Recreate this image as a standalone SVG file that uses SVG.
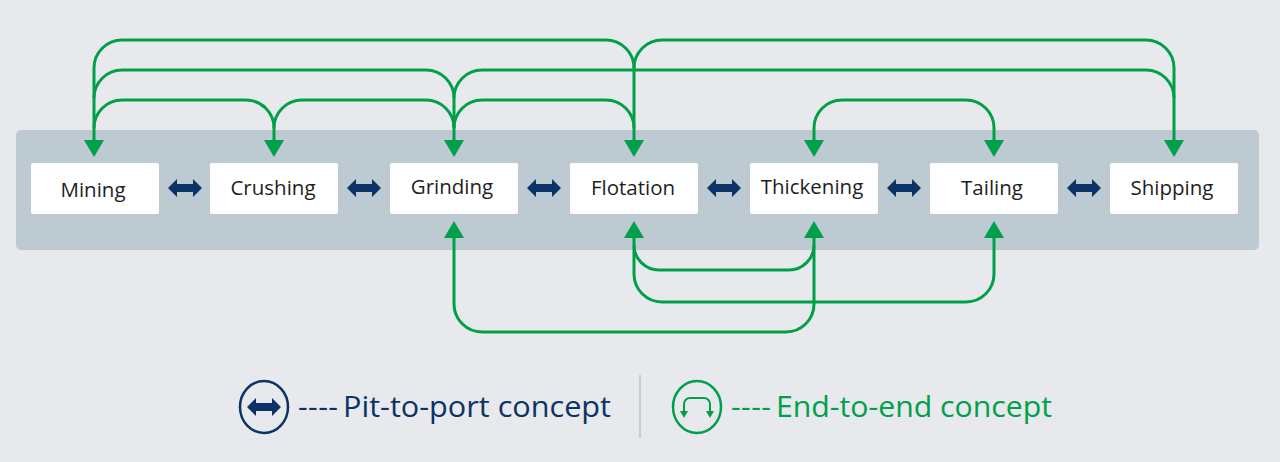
<svg xmlns="http://www.w3.org/2000/svg" width="1280" height="462" viewBox="0 0 1280 462">
<style>
.box{fill:#fff}
.lbl{font-family:"Open Sans","Noto Sans",sans-serif;font-size:20.5px;font-weight:500;fill:#1e1e1e;text-anchor:middle}
.g{fill:none;stroke:#00a04b;stroke-width:3}
.gh{fill:#00a04b}
.nv{fill:#0b3366}
.leg{font-family:"Open Sans","Noto Sans",sans-serif;font-size:30px;font-weight:500}
</style>
<defs>
<polygon id="dn" points="-10,-15 10,-15 0,2" class="gh"/>
<polygon id="up" points="-10,15 10,15 0,-2" class="gh"/>
<polygon id="dbl" points="-17,0 -8,-9 -8,-4 8,-4 8,-9 17,0 8,9 8,4 -8,4 -8,9" class="nv"/>
</defs>
<rect width="1280" height="462" fill="#e7e9ec"/>
<rect x="16" y="130" width="1243" height="120" rx="5" fill="#bdcad2"/>
<g id="connectors">
<path class="g" d="M94,142 V128 A28,28 0 0 1 122,100 H246 A28,28 0 0 1 274,128 V142"/>
<path class="g" d="M274,128 A28,28 0 0 1 302,100 H426 A28,28 0 0 1 454,128 V142"/>
<path class="g" d="M454,128 A28,28 0 0 1 482,100 H606 A28,28 0 0 1 634,128"/>
<path class="g" d="M94,128 V98 A28,28 0 0 1 122,70 H426 A28,28 0 0 1 454,98 V128"/>
<path class="g" d="M454,98 A28,28 0 0 1 482,70 H1146 A28,28 0 0 1 1174,98 V142"/>
<path class="g" d="M94,98 V68 A28,28 0 0 1 122,40 H606 A28,28 0 0 1 634,68 V142"/>
<path class="g" d="M634,68 A28,28 0 0 1 662,40 H1146 A28,28 0 0 1 1174,68 V98"/>
<path class="g" d="M814,142 V128 A28,28 0 0 1 842,100 H966 A28,28 0 0 1 994,128 V142"/>
<path class="g" d="M634,236 V245 A25,25 0 0 0 659,270 H789 A25,25 0 0 0 814,245 V236"/>
<path class="g" d="M634,245 V274 A28,28 0 0 0 662,302 H966 A28,28 0 0 0 994,274 V236"/>
<path class="g" d="M454,236 V304 A28,28 0 0 0 482,332 H786 A28,28 0 0 0 814,304 V245"/>
<use href="#dn" x="94" y="155"/><use href="#dn" x="274" y="155"/><use href="#dn" x="454" y="155"/>
<use href="#dn" x="634" y="155"/><use href="#dn" x="814" y="155"/><use href="#dn" x="994" y="155"/><use href="#dn" x="1174" y="155"/>
<use href="#up" x="454" y="223"/><use href="#up" x="634" y="223"/><use href="#up" x="814" y="223"/><use href="#up" x="994" y="223"/>
<use href="#dbl" x="185" y="188"/><use href="#dbl" x="364" y="188"/><use href="#dbl" x="544" y="188"/>
<use href="#dbl" x="724" y="188"/><use href="#dbl" x="904" y="188"/><use href="#dbl" x="1084" y="188"/>
</g>
<g id="mining"><rect class="box" x="31" y="163" width="128" height="51" rx="2"/><text class="lbl" x="93" y="197">Mining</text></g>
<g id="crushing"><rect class="box" x="210" y="163" width="128" height="51" rx="2"/><text class="lbl" x="273" y="195">Crushing</text></g>
<g id="grinding"><rect class="box" x="390" y="163" width="128" height="51" rx="2"/><text class="lbl" x="452" y="194">Grinding</text></g>
<g id="flotation"><rect class="box" x="570" y="163" width="128" height="51" rx="2"/><text class="lbl" x="633" y="195">Flotation</text></g>
<g id="thickening"><rect class="box" x="750" y="163" width="128" height="51" rx="2"/><text class="lbl" x="812" y="194">Thickening</text></g>
<g id="tailing"><rect class="box" x="930" y="163" width="128" height="51" rx="2"/><text class="lbl" x="992" y="195">Tailing</text></g>
<g id="shipping"><rect class="box" x="1110" y="163" width="128" height="51" rx="2"/><text class="lbl" x="1172" y="195">Shipping</text></g>
<g id="legend">
<ellipse cx="264" cy="407" rx="24" ry="26" fill="none" stroke="#0b3366" stroke-width="2.5"/>
<use href="#dbl" x="264" y="407"/>
<text class="leg" x="298" y="417" fill="#0b3366" textLength="40" lengthAdjust="spacing">----</text>
<text class="leg" x="343" y="417" fill="#0b3366" textLength="268" lengthAdjust="spacingAndGlyphs">Pit-to-port concept</text>
<line x1="640" y1="375" x2="640" y2="438" stroke="#c3cbd3" stroke-width="2"/>
<ellipse cx="697" cy="407" rx="24" ry="26" fill="none" stroke="#00a04b" stroke-width="2.5"/>
<path d="M684,415 V404 A6,6 0 0 1 690,398 H704 A6,6 0 0 1 710,404 V415" fill="none" stroke="#00a04b" stroke-width="2"/>
<polygon points="680,411 688,411 684,418" class="gh"/><polygon points="706,411 714,411 710,418" class="gh"/>
<text class="leg" x="731" y="417" fill="#00a04b" textLength="40" lengthAdjust="spacing">----</text>
<text class="leg" x="776" y="417" fill="#00a04b" textLength="276" lengthAdjust="spacingAndGlyphs">End-to-end concept</text>
</g>
</svg>
